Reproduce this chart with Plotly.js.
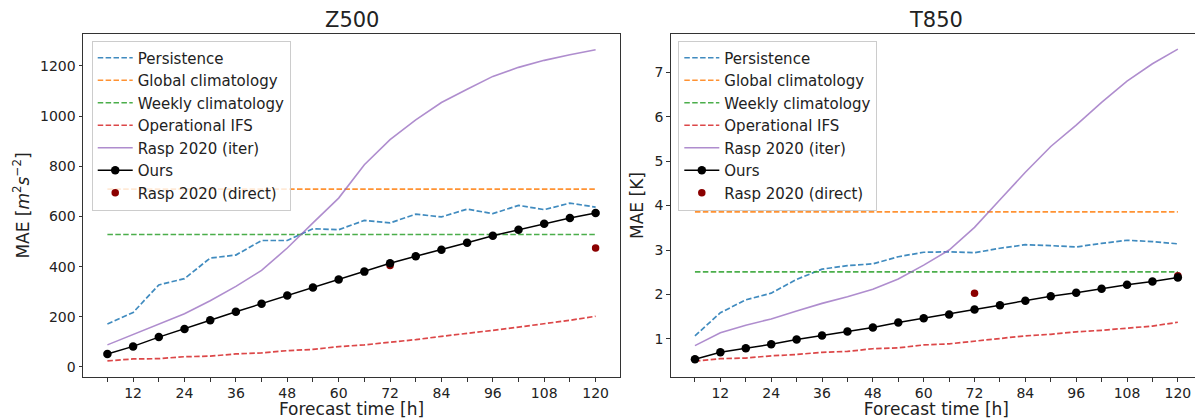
<!DOCTYPE html>
<html>
<head>
<meta charset="utf-8">
<script src="https://cdn.plot.ly/plotly-3.0.1.min.js"></script>
<style>
html, body { margin: 0; padding: 0; overflow: hidden; background: #fff; }
#chart { width: 1210px; height: 419px; }
</style>
</head>
<body>
<div id="chart"></div>
<script>
// Forecast lead times [h]
const hours = [6, 12, 18, 24, 30, 36, 42, 48, 54, 60, 66, 72, 78, 84, 90, 96, 102, 108, 114, 120];
const xTickText = ['', '12', '', '24', '', '36', '', '48', '', '60', '', '72', '', '84', '', '96', '', '108', '', '120'];
const climX = [6, 120];
const directX = [72, 120];

// Z500 MAE [m^2 s^-2]
const z500Persistence = [171, 217, 327, 352, 434, 446, 504, 504, 551, 547, 584, 574, 609, 598, 629, 611, 644, 627, 653, 637];
const z500Global = [709, 709];
const z500Weekly = [528, 528];
const z500IFS = [24, 32, 33, 41, 43, 52, 56, 65, 70, 81, 88, 98, 109, 122, 133, 146, 159, 172, 186, 202];
const z500RaspIter = [88, 129, 171, 212, 264, 321, 385, 474, 574, 673, 806, 906, 985, 1054, 1107, 1158, 1194, 1222, 1244, 1264];
const z500Ours = [52, 82, 119, 151, 186, 220, 252, 285, 317, 349, 380, 413, 441, 467, 495, 523, 547, 571, 594, 614];
const z500Direct = [404, 474];

// T850 MAE [K]
const t850Persistence = [1.07, 1.59, 1.88, 2.03, 2.34, 2.57, 2.65, 2.69, 2.85, 2.95, 2.96, 2.94, 3.04, 3.12, 3.10, 3.07, 3.15, 3.22, 3.19, 3.14];
const t850Global = [3.86, 3.86];
const t850Weekly = [2.51, 2.51];
const t850IFS = [0.50, 0.557, 0.57, 0.62, 0.65, 0.70, 0.72, 0.78, 0.80, 0.865, 0.89, 0.95, 1.015, 1.07, 1.105, 1.16, 1.195, 1.24, 1.29, 1.375];
const t850RaspIter = [0.85, 1.14, 1.31, 1.45, 1.63, 1.80, 1.95, 2.12, 2.35, 2.66, 3.0, 3.51, 4.13, 4.75, 5.33, 5.81, 6.32, 6.80, 7.19, 7.52];
const t850Ours = [0.543, 0.70, 0.79, 0.88, 0.99, 1.075, 1.165, 1.26, 1.37, 1.465, 1.55, 1.66, 1.76, 1.86, 1.96, 2.04, 2.13, 2.22, 2.29, 2.38];
const t850Direct = [2.03, 2.42];

const names = ['Persistence', 'Global climatology', 'Weekly climatology', 'Operational IFS', 'Rasp 2020 (iter)', 'Ours', 'Rasp 2020 (direct)'];
const colors = ['#1f77b4', '#ff7f0e', '#2ca02c', '#d62728', '#9467bd', '#000000', '#8b0000'];
const DASH = '5.5px,2.4px';

function panel(xa, ya, leg, d) {
  const dashed = (i, x, y) => ({
    x: x, y: y, name: names[i], type: 'scatter', mode: 'lines',
    line: {color: colors[i], width: 1.7, dash: DASH}, opacity: 0.85,
    xaxis: xa, yaxis: ya, legend: leg, legendrank: i + 1
  });
  return [
    dashed(0, hours, d.pers),
    dashed(1, climX, d.glob),
    dashed(2, climX, d.week),
    dashed(3, hours, d.ifs),
    {x: hours, y: d.iter, name: names[4], type: 'scatter', mode: 'lines',
     line: {color: colors[4], width: 1.6}, opacity: 0.75,
     xaxis: xa, yaxis: ya, legend: leg, legendrank: 5},
    {x: directX, y: d.direct, name: names[6], type: 'scatter', mode: 'markers',
     marker: {color: colors[6], size: 7.5}, xaxis: xa, yaxis: ya, legend: leg, legendrank: 7},
    {x: hours, y: d.ours, name: names[5], type: 'scatter', mode: 'lines+markers',
     line: {color: colors[5], width: 1.5}, marker: {color: colors[5], size: 8.5},
     xaxis: xa, yaxis: ya, legend: leg, legendrank: 6}
  ];
}

const data = panel('x', 'y', 'legend', {
  pers: z500Persistence, glob: z500Global, week: z500Weekly, ifs: z500IFS,
  iter: z500RaspIter, ours: z500Ours, direct: z500Direct
}).concat(panel('x2', 'y2', 'legend2', {
  pers: t850Persistence, glob: t850Global, week: t850Weekly, ifs: t850IFS,
  iter: t850RaspIter, ours: t850Ours, direct: t850Direct
}));

const FONT = 'DejaVu Sans, sans-serif';
const axBase = {
  showline: true, mirror: true, linecolor: '#333', linewidth: 1,
  ticks: 'outside', ticklen: 3.5, tickwidth: 1, tickcolor: '#333',
  showgrid: false, zeroline: false,
  tickfont: {family: FONT, size: 14, color: '#222'}
};
const xBase = Object.assign({}, axBase, {
  range: [0.3, 125.7], tickmode: 'array', tickvals: hours, ticktext: xTickText,
  title: {text: 'Forecast time [h]', font: {family: FONT, size: 17, color: '#222'}, standoff: 9}
});
const legBase = {
  bgcolor: 'rgba(255,255,255,0.8)', bordercolor: '#cccccc', borderwidth: 1,
  font: {family: FONT, size: 15, color: '#222'}, itemwidth: 35,
  xanchor: 'left', yanchor: 'top', y: 0.981, traceorder: 'normal'
};

const layout = {
  width: 1210, height: 419,
  margin: {l: 83, r: 8, t: 34, b: 42},
  paper_bgcolor: '#fff', plot_bgcolor: '#fff',
  showlegend: true,
  font: {family: FONT, color: '#222'},
  xaxis: Object.assign({}, xBase, {domain: [0, 0.4799], anchor: 'y'}),
  xaxis2: Object.assign({}, xBase, {domain: [0.5253, 1], anchor: 'y2'}),
  yaxis: Object.assign({}, axBase, {
    domain: [0, 1], anchor: 'x', range: [-40, 1327], dtick: 200, tick0: 0,
    title: {text: 'MAE [<i>m</i><sup>2</sup><i>s</i><sup>\u22122</sup>]', font: {family: FONT, size: 17, color: '#222'}, standoff: 6}
  }),
  yaxis2: Object.assign({}, axBase, {
    domain: [0, 1], anchor: 'x2', range: [0.144, 7.86], dtick: 1, tick0: 0,
    title: {text: 'MAE [K]', font: {family: FONT, size: 17, color: '#222'}, standoff: 6}
  }),
  legend: Object.assign({}, legBase, {x: 0.0078}),
  legend2: Object.assign({}, legBase, {x: 0.532}),
  annotations: [
    {text: 'Z500', xref: 'x domain', yref: 'paper', x: 0.5, y: 1, xanchor: 'center', yanchor: 'bottom',
     yshift: 0, showarrow: false, font: {family: FONT, size: 21, color: '#222'}},
    {text: 'T850', xref: 'x2 domain', yref: 'paper', x: 0.5, y: 1, xanchor: 'center', yanchor: 'bottom',
     yshift: 0, showarrow: false, font: {family: FONT, size: 21, color: '#222'}}
  ]
};

Plotly.newPlot('chart', data, layout, {displayModeBar: false, staticPlot: true});
</script>
</body>
</html>
